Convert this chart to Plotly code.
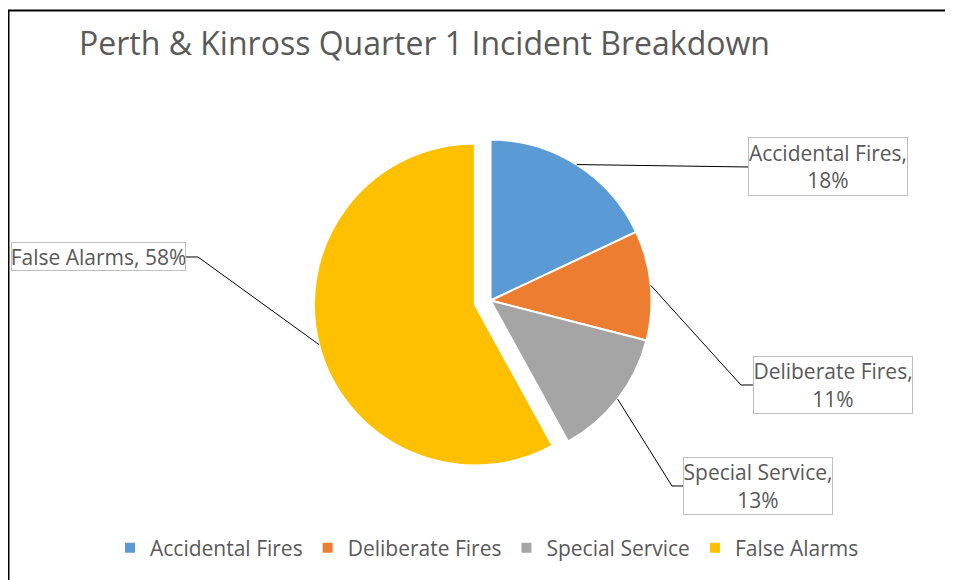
import math
import plotly.graph_objects as go

# ---- data ----
categories = ["Accidental Fires", "Deliberate Fires", "Special Service", "False Alarms"]
shares = [18, 11, 13, 58]
colors = ["#5B9BD5", "#ED7D31", "#A5A5A5", "#FFC000"]
pulls = [0, 0, 0, 0.1]
title_text = "Perth & Kinross Quarter 1 Incident Breakdown"

# page body has an 8px margin; work in reference pixel coordinates and shift
OFF = 8
W, H = 953 - OFF, 580 - OFF
FONT = "Open Sans"
TXT = "#595959"

# pie geometry (reference pixels)
CX, CY, R = 490.5, 300.5, 161
maxpull = max(pulls)
half = R * (1 + maxpull)


def px(x):
    return (x - OFF) / W


def py(y):
    return 1 - (y - OFF) / H


fig = go.Figure()
fig.add_trace(go.Pie(
    labels=categories, values=shares, sort=False, direction="clockwise", rotation=0,
    marker=dict(colors=colors, line=dict(color="white", width=2)),
    pull=pulls, textinfo="none", hoverinfo="label+percent",
    domain=dict(x=[px(CX - half), px(CX + half)], y=[py(CY + half), py(CY - half)]),
))

# label boxes: (left, top, width, height) in pixels, and leader elbow points
boxes = {
    "Accidental Fires": dict(box=(748, 137, 160, 59), elbow=None, end=(748, 167), two=True),
    "Deliberate Fires": dict(box=(753, 356, 160, 58), elbow=(741, 385), end=(753, 385), two=True),
    "Special Service": dict(box=(683, 457, 150, 58), elbow=(672, 486), end=(683, 486), two=True),
    "False Alarms": dict(box=(11, 242, 175, 29), elbow=(198, 257), end=(186, 257), two=False),
}

total = sum(shares)
cum = 0
shapes = []
annotations = []
for cat, v, p in zip(categories, shares, pulls):
    start = cum / total * 360
    cum += v
    end = cum / total * 360
    mid = math.radians((start + end) / 2)
    ox = CX + p * R * math.sin(mid)
    oy = CY - p * R * math.cos(mid)
    sx = ox + R * math.sin(mid)
    sy = oy - R * math.cos(mid)
    info = boxes[cat]
    pts = [(sx, sy)]
    if info["elbow"]:
        pts.append(info["elbow"])
    pts.append(info["end"])
    path = "M " + " L ".join(f"{px(a):.5f},{py(b):.5f}" for a, b in pts)
    shapes.append(dict(type="path", xref="paper", yref="paper", path=path,
                       line=dict(color="black", width=1)))
    pct = f"{round(v / total * 100)}%"
    text = f"{cat},<br>{pct}" if info["two"] else f"{cat}, {pct}"
    bl, bt, bw, bh = info["box"]
    annotations.append(dict(
        x=px(bl), y=py(bt), xref="paper", yref="paper", xanchor="left", yanchor="top",
        text=text, showarrow=False, align="center", width=bw - 2, height=bh - 2,
        bordercolor="#BFBFBF", borderwidth=1, borderpad=0, bgcolor="white",
        font=dict(family=FONT, size=21, color=TXT), valign="middle",
    ))

# outer frame of the chart area
shapes.append(dict(type="rect", xref="paper", yref="paper",
                   x0=px(8.5), x1=px(980), y0=py(10.5), y1=py(600),
                   line=dict(color="black", width=2), layer="below"))

fig.update_layout(
    width=W, height=H,
    margin=dict(l=0, r=0, t=0, b=0),
    paper_bgcolor="white", plot_bgcolor="white",
    title=dict(text=title_text, x=px(79), xanchor="left", xref="paper",
               y=py(33), yanchor="top", yref="paper",
               font=dict(family=FONT, size=32, color=TXT)),
    showlegend=True,
    legend=dict(orientation="h", x=px(487), xanchor="center", y=py(548), yanchor="middle",
                font=dict(family=FONT, size=21, color=TXT), traceorder="normal"),
    shapes=shapes,
    annotations=annotations,
)

fig.write_html("out.html")
